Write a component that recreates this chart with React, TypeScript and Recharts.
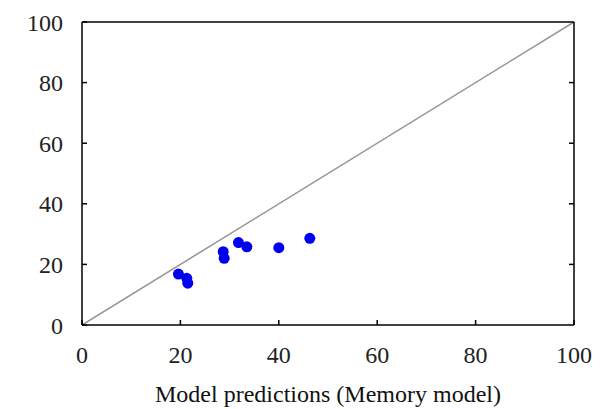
import React from "react";
import {
  ScatterChart,
  Scatter,
  XAxis,
  YAxis,
  ReferenceLine,
} from "recharts";

// Model predictions (x) against observed values (y), one entry per condition
const predicted = [19.6, 21.3, 21.5, 28.7, 28.9, 31.8, 33.5, 40.0, 46.3];
const observed = [16.8, 15.4, 13.8, 24.2, 22.0, 27.2, 25.8, 25.5, 28.6];
const axisTicks = [0, 20, 40, 60, 80, 100];
const innerTicks = [20, 40, 60, 80];
const xTitle = "Model predictions (Memory model)";

const points = predicted.map((x, i) => ({ x, y: observed[i] }));

const FONT = "'Liberation Serif', 'Times New Roman', serif";
const tickStyle = { fontFamily: FONT, fontSize: 24, fill: "#222" };
const axisStroke = { stroke: "#000", strokeWidth: 1.5 };

const blankTick = () => <g />;

export default function App() {
  return (
    <div style={{ width: 594, height: 401, background: "#fff" }}>
      <ScatterChart
        width={594}
        height={401}
        margin={{ top: 13, right: 27, bottom: 0, left: 0 }}
      >
        <XAxis
          xAxisId="main"
          dataKey="x"
          type="number"
          domain={[0, 100]}
          ticks={axisTicks}
          allowDataOverflow
          height={84}
          tickSize={-5}
          tickMargin={26}
          tick={tickStyle}
          axisLine={axisStroke}
          tickLine={axisStroke}
          interval={0}
          label={{
            value: xTitle,
            position: "insideBottom",
            offset: 7,
            style: { fontFamily: FONT, fontSize: 24, fill: "#111" },
          }}
        />
        <XAxis
          xAxisId="top"
          orientation="top"
          type="number"
          domain={[0, 100]}
          ticks={innerTicks}
          allowDataOverflow
          height={1}
          tickSize={-5}
          tick={blankTick}
          axisLine={axisStroke}
          tickLine={axisStroke}
          interval={0}
        />
        <YAxis
          yAxisId="main"
          dataKey="y"
          type="number"
          domain={[0, 100]}
          ticks={axisTicks}
          allowDataOverflow
          width={74}
          tickSize={-5}
          tickMargin={24}
          tick={tickStyle}
          axisLine={axisStroke}
          tickLine={axisStroke}
          interval={0}
        />
        <YAxis
          yAxisId="right"
          orientation="right"
          type="number"
          domain={[0, 100]}
          ticks={innerTicks}
          allowDataOverflow
          width={1}
          tickSize={-5}
          tick={blankTick}
          axisLine={axisStroke}
          tickLine={axisStroke}
          interval={0}
        />
        <ReferenceLine
          xAxisId="main"
          yAxisId="main"
          segment={[
            { x: 0, y: 0 },
            { x: 100, y: 100 },
          ]}
          stroke="#9a9a9a"
          strokeWidth={1.6}
          ifOverflow="visible"
        />
        <Scatter
          xAxisId="main"
          yAxisId="main"
          data={points}
          fill="#0000f0"
          isAnimationActive={false}
          shape={(props: any) => (
            <circle cx={props.cx} cy={props.cy} r={5.5} fill="#0000f0" />
          )}
        />
      </ScatterChart>
    </div>
  );
}
